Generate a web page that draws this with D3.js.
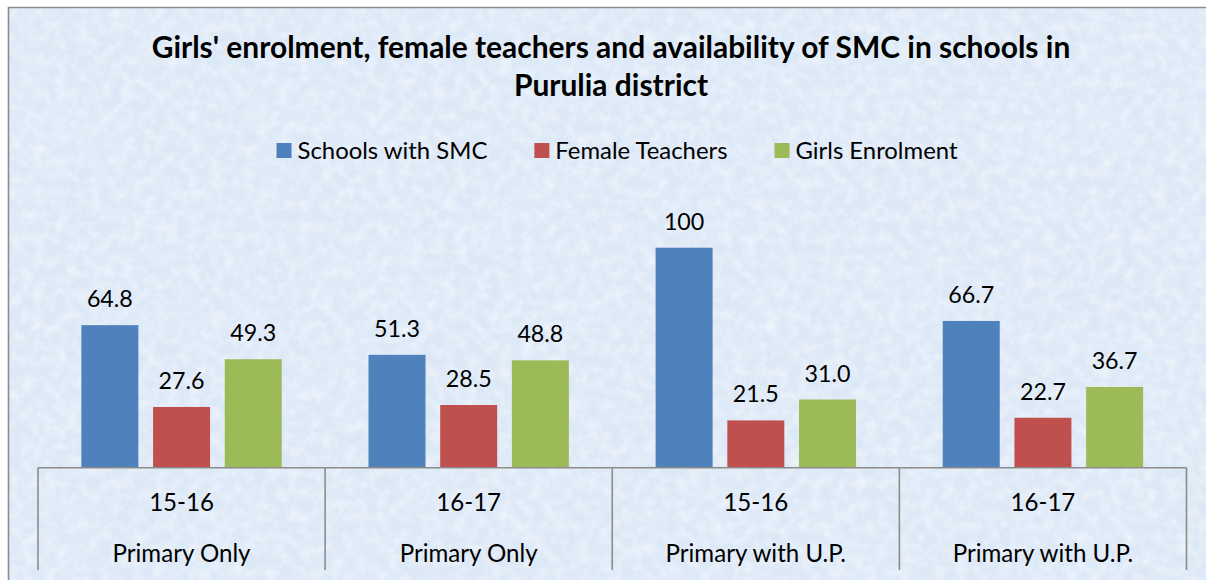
<!DOCTYPE html>
<html>
<head>
<meta charset="utf-8">
<script src="https://cdn.jsdelivr.net/npm/d3@7"></script>
<style>
  html, body { margin: 0; padding: 0; background: #fff; }
  svg { display: block; font-family: Lato, "Open Sans", sans-serif; }
</style>
</head>
<body>
<div id="chart"></div>
<script>
// data
const years = ["15-16", "16-17", "15-16", "16-17"];
const schoolTypes = ["Primary Only", "Primary Only", "Primary with U.P.", "Primary with U.P."];
const seriesNames = ["Schools with SMC", "Female Teachers", "Girls Enrolment"];
const schoolsWithSMC = [64.8, 51.3, 100, 66.7];
const femaleTeachers = [27.6, 28.5, 21.5, 22.7];
const girlsEnrolment = [49.3, 48.8, 31.0, 36.7];
const titleLines = [
  "Girls' enrolment, female teachers and availability of SMC in schools in",
  "Purulia district"
];

const colors = ["#4f81bd", "#c0504d", "#9bbb59"];
const width = 1206;
const height = 580;

const seriesValues = [schoolsWithSMC, femaleTeachers, girlsEnrolment];
const rows = years.map((y, i) => ({
  i,
  year: y,
  type: schoolTypes[i],
  values: seriesNames.map((s, k) => ({ key: s, k, value: seriesValues[k][i] }))
}));

const svg = d3.select("#chart").append("svg")
  .attr("width", width)
  .attr("height", height);

// --- background with a soft paper texture ---
const defs = svg.append("defs");
const noise = defs.append("filter").attr("id", "paper")
  .attr("x", 0).attr("y", 0).attr("width", "100%").attr("height", "100%");
noise.append("feTurbulence")
  .attr("type", "fractalNoise")
  .attr("baseFrequency", 0.09)
  .attr("numOctaves", 3)
  .attr("seed", 7);
noise.append("feColorMatrix")
  .attr("type", "matrix")
  .attr("values", "0 0 0 0 1  0 0 0 0 1  0 0 0 0 1  1.6 0 0 0 -0.55");

const blobs = defs.append("filter").attr("id", "blobs")
  .attr("x", 0).attr("y", 0).attr("width", "100%").attr("height", "100%");
blobs.append("feTurbulence")
  .attr("type", "fractalNoise")
  .attr("baseFrequency", 0.012)
  .attr("numOctaves", 2)
  .attr("seed", 3);
blobs.append("feColorMatrix")
  .attr("type", "matrix")
  .attr("values", "0 0 0 0 0.75  0 0 0 0 0.85  0 0 0 0 0.97  1.2 0 0 0 -0.45");

svg.append("rect")
  .attr("x", 8).attr("y", 7)
  .attr("width", width - 8).attr("height", height - 7)
  .attr("fill", "#dce8f6");
svg.append("rect")
  .attr("x", 8).attr("y", 7)
  .attr("width", width - 8).attr("height", height - 7)
  .attr("filter", "url(#blobs)")
  .attr("opacity", 0.5);
svg.append("rect")
  .attr("x", 8).attr("y", 7)
  .attr("width", width - 8).attr("height", height - 7)
  .attr("filter", "url(#paper)")
  .attr("opacity", 0.55);

svg.append("path")
  .attr("d", `M8.5,${height}V7.5H${width}`)
  .attr("fill", "none")
  .attr("stroke", "#8c8c8c")
  .attr("stroke-width", 1.6);

// size a font so a sample string gets a given width
function fitSize(text, weight, target) {
  const t = svg.append("text")
    .attr("font-size", 100)
    .attr("font-weight", weight)
    .text(text);
  const w = t.node().getComputedTextLength();
  t.remove();
  return 100 * target / w;
}

const titleSize = fitSize(titleLines[0], "bold", 919);
const legendSize = fitSize(seriesNames[0], "normal", 190);
const axisSize = fitSize("Primary Only", "normal", 138);
const labelSize = fitSize("64.8", "normal", 46);

// --- title ---
svg.append("g")
  .selectAll("text")
  .data(titleLines)
  .join("text")
  .attr("x", 611)
  .attr("y", (d, i) => 58 + i * 38)
  .attr("text-anchor", "middle")
  .attr("font-size", titleSize)
  .attr("font-weight", "bold")
  .attr("fill", "#000")
  .text(d => d);

// --- legend ---
const legend = svg.append("g");
const items = legend.selectAll("g")
  .data(seriesNames)
  .join("g");
items.append("rect")
  .attr("y", 143)
  .attr("width", 15)
  .attr("height", 15)
  .attr("fill", (d, i) => colors[i]);
items.append("text")
  .attr("x", 21)
  .attr("y", 159)
  .attr("font-size", legendSize)
  .attr("fill", "#000")
  .text(d => d);

let lx = 0;
const itemGap = 47;
items.each(function () {
  const w = 21 + d3.select(this).select("text").node().getComputedTextLength();
  d3.select(this).attr("transform", `translate(${lx},0)`);
  lx += w + itemGap;
});
const legendW = lx - itemGap;
legend.attr("transform", `translate(${617 - legendW / 2},0)`);

// --- scales ---
const x = d3.scaleBand()
  .domain(d3.range(rows.length))
  .range([38, 1186.5]);

const xInner = d3.scaleBand()
  .domain(seriesNames)
  .range([0, x.bandwidth()])
  .paddingInner(0.205)
  .paddingOuter(0.605);

const y = d3.scaleLinear()
  .domain([0, 120])
  .range([467.7, 203.7]);

const fmt = v => (v >= 100 && v % 1 === 0) ? String(v) : v.toFixed(1);

// --- bars ---
const groups = svg.append("g")
  .selectAll("g")
  .data(rows)
  .join("g")
  .attr("transform", d => `translate(${x(d.i)},0)`);

groups.selectAll("rect")
  .data(d => d.values)
  .join("rect")
  .attr("x", d => xInner(d.key))
  .attr("y", d => y(d.value))
  .attr("width", xInner.bandwidth())
  .attr("height", d => y(0) - y(d.value))
  .attr("fill", d => colors[d.k]);

groups.selectAll("text.val")
  .data(d => d.values)
  .join("text")
  .attr("class", "val")
  .attr("x", d => xInner(d.key) + xInner.bandwidth() / 2)
  .attr("y", d => y(d.value) - 18)
  .attr("text-anchor", "middle")
  .attr("font-size", labelSize)
  .attr("fill", "#000")
  .text(d => fmt(d.value));

// --- category axis (two label rows, boxed by tick lines) ---
const axis = svg.append("g").attr("stroke", "#8c8c8c").attr("stroke-width", 1.6);
axis.append("line")
  .attr("x1", x.range()[0]).attr("x2", x.range()[1])
  .attr("y1", y(0)).attr("y2", y(0));

const bounds = d3.range(rows.length).map(i => x(i)).concat([x.range()[1]]);
axis.selectAll("line.tick")
  .data(bounds)
  .join("line")
  .attr("class", "tick")
  .attr("x1", d => d).attr("x2", d => d)
  .attr("y1", y(0)).attr("y2", 570);

const labels = svg.append("g")
  .attr("font-size", axisSize)
  .attr("fill", "#000")
  .attr("text-anchor", "middle");
labels.selectAll("text.year")
  .data(rows)
  .join("text")
  .attr("class", "year")
  .attr("x", d => x(d.i) + x.bandwidth() / 2)
  .attr("y", 511)
  .text(d => d.year);
labels.selectAll("text.type")
  .data(rows)
  .join("text")
  .attr("class", "type")
  .attr("x", d => x(d.i) + x.bandwidth() / 2)
  .attr("y", 561.5)
  .text(d => d.type);
</script>
</body>
</html>
